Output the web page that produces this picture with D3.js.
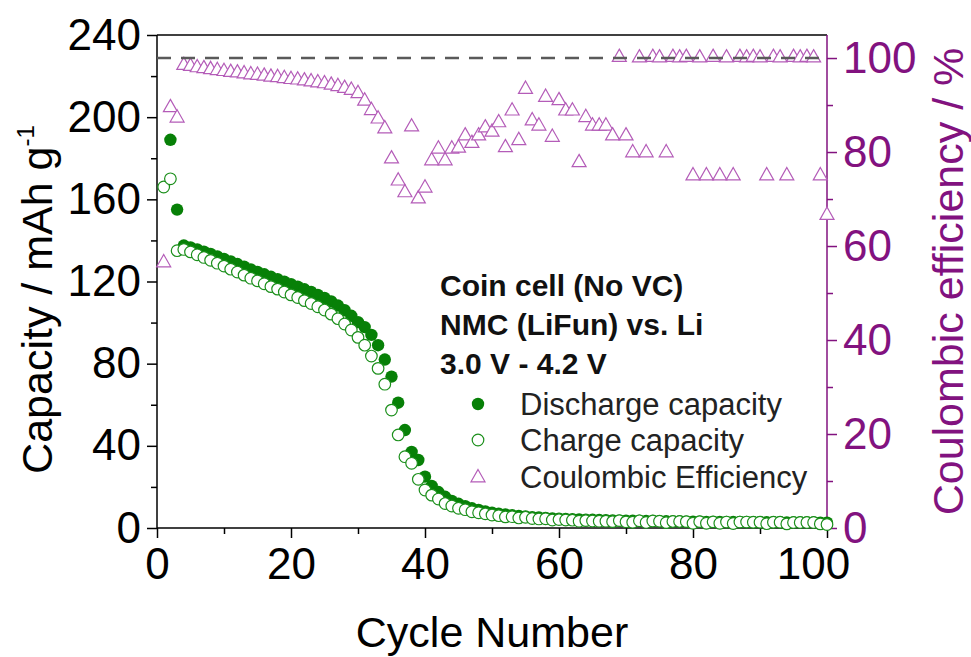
<!DOCTYPE html>
<html>
<head>
<meta charset="utf-8">
<script src="https://cdn.jsdelivr.net/npm/d3@7/dist/d3.min.js"></script>
<style>
  body { margin: 0; background: #fff; }
  text { font-family: "Liberation Sans", Arial, sans-serif; }
</style>
</head>
<body>
<svg id="chart" width="971" height="657"></svg>
<script>
// Cycle index for every measurement (cycle 1 .. 100)
const cycleNumbers = [
  1,2,3,4,5,6,7,8,9,10,11,12,13,14,15,16,17,18,19,20,
  21,22,23,24,25,26,27,28,29,30,31,32,33,34,35,36,37,38,39,40,
  41,42,43,44,45,46,47,48,49,50,51,52,53,54,55,56,57,58,59,60,
  61,62,63,64,65,66,67,68,69,70,71,72,73,74,75,76,77,78,79,80,
  81,82,83,84,85,86,87,88,89,90,91,92,93,94,95,96,97,98,99,100
];

// Discharge capacity, mAh/g (cycle 1 lies above the plotted range)
const dischargeCapacity = [
  null,189,155,137.5,136.6,135.6,134.5,133.4,132.2,131.0,
  129.8,128.5,127.2,125.9,124.7,123.5,122.3,121.1,119.9,118.7,
  117.5,116.2,114.9,113.5,112.0,110.3,108.3,106.0,103.3,100.2,
  97.8,94.0,89.0,82.0,73.7,61.0,47.7,37.0,33.1,25.0,
  20.5,17.5,15.2,13.2,11.8,10.6,9.6,8.8,8.1,7.5,
  7.0,6.6,6.2,5.9,5.6,5.3,5.1,4.9,4.7,4.5,
  4.4,4.3,4.2,4.1,4.0,3.9,3.8,3.7,3.6,3.6,
  3.5,3.5,3.4,3.4,3.3,3.3,3.2,3.2,3.1,3.1,
  3.1,3.0,3.0,3.0,2.9,2.9,2.9,2.9,2.8,2.8,
  2.8,2.8,2.8,2.7,2.7,2.7,2.7,2.7,2.6,2.6
];

// Charge capacity, mAh/g
const chargeCapacity = [
  166,170,135,135.6,134.4,133.0,131.7,130.3,128.9,127.5,
  126.0,124.6,123.1,121.6,120.3,118.9,117.5,116.3,114.9,113.5,
  112.2,110.7,109.3,107.7,106.1,104.1,101.9,99.3,96.4,92.8,
  89.0,83.7,77.7,70.0,57.4,45.3,34.7,31.5,23.7,18.5,
  16.0,14.1,11.9,10.7,9.6,8.9,7.9,7.4,6.9,6.3,
  6.0,5.4,5.5,4.9,5.2,4.6,4.4,4.5,3.9,4.1,
  3.9,3.8,3.3,3.6,3.4,3.3,3.3,3.1,3.6,3.0,
  2.8,3.5,2.7,3.4,3.3,2.6,3.2,3.2,3.1,2.3,
  3.1,2.3,3.0,2.3,2.9,2.2,2.9,2.9,2.8,2.8,
  2.1,2.8,2.8,2.0,2.7,2.7,2.7,2.7,2.0,1.7
];

// Coulombic efficiency, %
const coulombicEfficiency = [
  56.6,89.6,87.4,98.6,98.4,98.1,97.9,97.7,97.5,97.3,
  97.1,97.0,96.8,96.6,96.5,96.3,96.1,96.0,95.8,95.6,
  95.5,95.3,95.1,94.9,94.7,94.4,94.1,93.7,93.3,92.6,
  91.0,89.0,87.2,85.1,78.7,74.0,71.5,85.5,70.2,72.5,
  78.3,80.8,78.3,80.8,81.0,83.6,82.0,83.6,85.3,84.4,
  86.4,81.1,88.9,82.6,93.5,86.8,85.7,91.8,83.3,91.1,
  88.9,88.9,77.9,87.5,85.7,85.7,85.7,83.6,100.3,83.6,
  80.0,100.2,80.0,100.3,100.2,80.0,100.3,100.2,100.3,75.1,
  100.2,75.1,100.3,75.1,100.2,75.1,100.3,100.2,100.3,100.2,
  75.1,100.3,100.2,75.1,100.3,100.2,100.3,100.2,75.1,66.7
];

const xTicks = [0, 20, 40, 60, 80, 100];
const yTicks = [0, 40, 80, 120, 160, 200, 240];
const ceTicks = [0, 20, 40, 60, 80, 100];

const legendNotes = ["Coin cell (No VC)", "NMC (LiFun) vs. Li", "3.0 V - 4.2 V"];
const legendNames = ["Discharge capacity", "Charge capacity", "Coulombic Efficiency"];

// ---- layout ----
const plot = { left: 157, right: 827, top: 35, bottom: 528 };

const GREEN = "#078007";
const GREEN_OPEN = "#1b8f1b";
const TRI = "#b45cb8";
const PURPLE = "#82127f";
const FONT = '"Liberation Sans", Arial, sans-serif';

const svg = d3.select("#chart");

const x = d3.scaleLinear().domain([0, 100]).range([plot.left, plot.right]);
const y = d3.scaleLinear().domain([0, 240]).range([plot.bottom, plot.top]);
const yCE = d3.scaleLinear().domain([0, 104.9]).range([plot.bottom, plot.top]);

const rows = cycleNumbers.map((c, i) => ({
  cycle: c,
  dis: dischargeCapacity[i],
  chg: chargeCapacity[i],
  ce: coulombicEfficiency[i]
}));

// ---- axes ----
function styleAxis(g, color, fontSize) {
  g.select(".domain").remove();
  g.selectAll(".tick line").attr("stroke", color).attr("stroke-width", 1.5);
  g.selectAll(".tick text")
    .attr("fill", color)
    .style("font-size", fontSize + "px")
    .style("font-family", FONT);
}

// minor ticks
svg.append("g")
  .attr("transform", `translate(0,${plot.bottom})`)
  .call(d3.axisBottom(x).tickValues([10, 30, 50, 70, 90]).tickSize(6).tickFormat(""))
  .call(g => styleAxis(g, "#000", 10));
svg.append("g")
  .attr("transform", `translate(${plot.left},0)`)
  .call(d3.axisLeft(y).tickValues([20, 60, 100, 140, 180, 220]).tickSize(6).tickFormat(""))
  .call(g => styleAxis(g, "#000", 10));
svg.append("g")
  .attr("transform", `translate(${plot.right},0)`)
  .call(d3.axisRight(yCE).tickValues([10, 30, 50, 70, 90]).tickSize(6).tickFormat(""))
  .call(g => styleAxis(g, PURPLE, 10));

// major ticks with labels
const xAxisG = svg.append("g")
  .attr("transform", `translate(0,${plot.bottom})`)
  .call(d3.axisBottom(x).tickValues(xTicks).tickSize(10).tickPadding(10).tickFormat(d3.format("d")))
  .call(g => styleAxis(g, "#000", 44));
// last label sits a little left of its tick, clear of the right-axis "0"
xAxisG.selectAll(".tick text").filter(d => d === 100).attr("dx", -14);

svg.append("g")
  .attr("transform", `translate(${plot.left},0)`)
  .call(d3.axisLeft(y).tickValues(yTicks).tickSize(10).tickPadding(6).tickFormat(d3.format("d")))
  .call(g => styleAxis(g, "#000", 44));
svg.append("g")
  .attr("transform", `translate(${plot.right},0)`)
  .call(d3.axisRight(yCE).tickValues(ceTicks).tickSize(10).tickPadding(6).tickFormat(d3.format("d")))
  .call(g => styleAxis(g, PURPLE, 44));

// frame
svg.append("line").attr("x1", plot.left).attr("x2", plot.right)
  .attr("y1", plot.top).attr("y2", plot.top).attr("stroke", "#000").attr("stroke-width", 1.5);
svg.append("line").attr("x1", plot.left).attr("x2", plot.right)
  .attr("y1", plot.bottom).attr("y2", plot.bottom).attr("stroke", "#000").attr("stroke-width", 1.5);
svg.append("line").attr("x1", plot.left).attr("x2", plot.left)
  .attr("y1", plot.top).attr("y2", plot.bottom).attr("stroke", "#000").attr("stroke-width", 1.5);
svg.append("line").attr("x1", plot.right).attr("x2", plot.right)
  .attr("y1", plot.top).attr("y2", plot.bottom).attr("stroke", PURPLE).attr("stroke-width", 1.5);

// axis titles
svg.append("text")
  .attr("x", (plot.left + plot.right) / 2).attr("y", 647)
  .attr("text-anchor", "middle").style("font-size", "43px").attr("fill", "#000")
  .text("Cycle Number");

const yTitle = svg.append("text")
  .attr("transform", `translate(52,${(plot.top + plot.bottom) / 2 + 18}) rotate(-90)`)
  .attr("text-anchor", "middle").style("font-size", "43px").attr("fill", "#000");
yTitle.append("tspan").text("Capacity / mAh g");
yTitle.append("tspan").attr("dy", -18).style("font-size", "24px").text("-1");

svg.append("text")
  .attr("transform", `translate(963,${(plot.top + plot.bottom) / 2}) rotate(-90)`)
  .attr("text-anchor", "middle").style("font-size", "43px").attr("fill", PURPLE)
  .text("Coulombic efficiency / %");

// ---- marks ----
const triPath = "M0,-7.5 L7,4.8 L-7,4.8 Z";

svg.append("g").selectAll("circle")
  .data(rows.filter(d => d.dis != null))
  .join("circle")
  .attr("cx", d => x(d.cycle)).attr("cy", d => y(d.dis)).attr("r", 6.2)
  .attr("fill", GREEN);

svg.append("g").selectAll("circle")
  .data(rows.filter(d => d.chg != null))
  .join("circle")
  .attr("cx", d => x(d.cycle)).attr("cy", d => y(d.chg)).attr("r", 5.8)
  .attr("fill", "#fff").attr("stroke", GREEN_OPEN).attr("stroke-width", 1.2);

svg.append("g").selectAll("path")
  .data(rows.filter(d => d.ce != null))
  .join("path")
  .attr("transform", d => `translate(${x(d.cycle)},${yCE(d.ce)})`)
  .attr("d", triPath)
  .attr("fill", "#fff").attr("stroke", TRI).attr("stroke-width", 1.2);

// 100 % reference line
svg.append("line")
  .attr("x1", plot.left).attr("x2", plot.right)
  .attr("y1", yCE(100)).attr("y2", yCE(100))
  .attr("stroke", "#5a5a5a").attr("stroke-width", 2.5)
  .attr("stroke-dasharray", "14,10");

// ---- legend ----
const lg = svg.append("g");
legendNotes.forEach((t, i) => {
  lg.append("text").attr("x", 440).attr("y", 296 + i * 39)
    .style("font-size", "30px").style("font-weight", "bold").attr("fill", "#111")
    .text(t);
});
const legendY = [404, 440, 477];
lg.append("circle").attr("cx", 478).attr("cy", legendY[0]).attr("r", 6.2).attr("fill", GREEN);
lg.append("circle").attr("cx", 478).attr("cy", legendY[1]).attr("r", 5.8)
  .attr("fill", "#fff").attr("stroke", GREEN_OPEN).attr("stroke-width", 1.2);
lg.append("path").attr("transform", `translate(478,${legendY[2]})`).attr("d", triPath)
  .attr("fill", "#fff").attr("stroke", TRI).attr("stroke-width", 1.2);
legendNames.forEach((t, i) => {
  lg.append("text").attr("x", 520).attr("y", legendY[i] + 11)
    .style("font-size", "31px").attr("fill", "#222")
    .text(t);
});
</script>
</body>
</html>
